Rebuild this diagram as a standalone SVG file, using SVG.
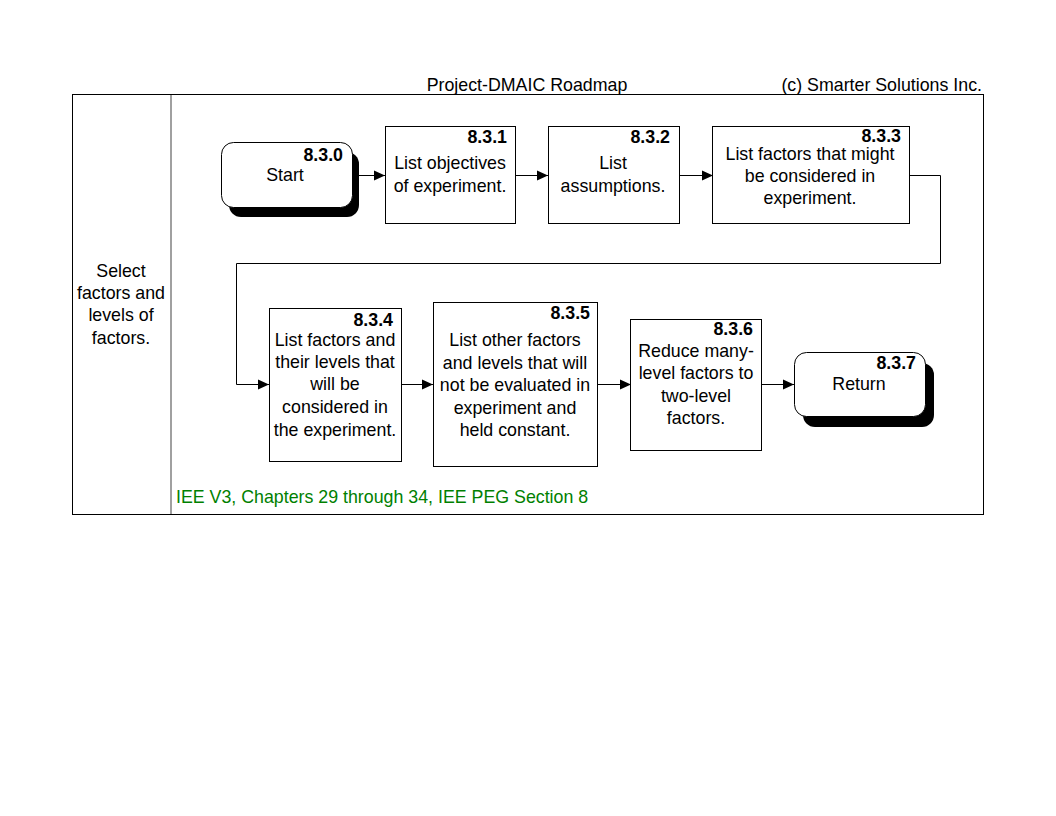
<svg xmlns="http://www.w3.org/2000/svg" width="1056" height="816" viewBox="0 0 1056 816">
<defs>
<marker id="arr" markerUnits="userSpaceOnUse" markerWidth="12" markerHeight="12" refX="11" refY="6" orient="auto">
<path d="M0,1 L11,6 L0,11 Z" fill="#000"/>
</marker>
<style>
text{font-family:"Liberation Sans",Arial,sans-serif;font-size:17.8px;fill:#000}
.c{text-anchor:middle}
.n{text-anchor:end;font-weight:bold}
.box{fill:#fff;stroke:#000;stroke-width:1}
.sh{fill:#000}
.ln{fill:none;stroke:#000;stroke-width:1}
</style>
</defs>
<rect width="1056" height="816" fill="#fff"/>
<g id="frame">
<rect x="72.5" y="94.5" width="911" height="420" fill="none" stroke="#000"/>
<line x1="171" y1="95" x2="171" y2="514" stroke="#808080" stroke-width="1.5"/>
<text class="c" x="527" y="90.5">Project-DMAIC Roadmap</text>
<text x="982" y="90.5" text-anchor="end">(c) Smarter Solutions Inc.</text>
<text class="c" x="121" y="277">Select</text>
<text class="c" x="121" y="299">factors and</text>
<text class="c" x="121" y="321">levels of</text>
<text class="c" x="121" y="344">factors.</text>
<text x="176" y="503" style="fill:#008000">IEE V3, Chapters 29 through 34, IEE PEG Section 8</text>
</g>
<g id="connectors">
<line class="ln" x1="359" y1="175.5" x2="385" y2="175.5" marker-end="url(#arr)"/>
<line class="ln" x1="516" y1="175.5" x2="548" y2="175.5" marker-end="url(#arr)"/>
<line class="ln" x1="679" y1="175.5" x2="713" y2="175.5" marker-end="url(#arr)"/>
<polyline class="ln" points="909,175.5 940.5,175.5 940.5,263.5 236.5,263.5 236.5,384.5 269,384.5" marker-end="url(#arr)"/>
<line class="ln" x1="401" y1="384.5" x2="433" y2="384.5" marker-end="url(#arr)"/>
<line class="ln" x1="598" y1="384.5" x2="631" y2="384.5" marker-end="url(#arr)"/>
<line class="ln" x1="762" y1="384.5" x2="794" y2="384.5" marker-end="url(#arr)"/>
</g>
<g id="n830">
<rect class="sh" x="229" y="152" width="130" height="65" rx="12"/>
<rect class="box" x="221.5" y="142.5" width="131" height="65" rx="12"/>
<text class="n" x="343" y="161">8.3.0</text>
<text class="c" x="285" y="181">Start</text>
</g>
<g id="n831">
<rect class="box" x="385.5" y="126.5" width="130" height="97"/>
<text class="n" x="507" y="143">8.3.1</text>
<text class="c" x="450" y="169">List objectives</text>
<text class="c" x="450" y="192">of experiment.</text>
</g>
<g id="n832">
<rect class="box" x="548.5" y="126.5" width="131" height="97"/>
<text class="n" x="670" y="143">8.3.2</text>
<text class="c" x="613" y="169">List</text>
<text class="c" x="613" y="192">assumptions.</text>
</g>
<g id="n833">
<rect class="box" x="712.5" y="126.5" width="197" height="97"/>
<text class="n" x="901" y="142">8.3.3</text>
<text class="c" x="810" y="160">List factors that might</text>
<text class="c" x="810" y="182">be considered in</text>
<text class="c" x="810" y="204">experiment.</text>
</g>
<g id="n834">
<rect class="box" x="269.5" y="308.5" width="132" height="153"/>
<text class="n" x="393" y="326">8.3.4</text>
<text class="c" x="335" y="346">List factors and</text>
<text class="c" x="335" y="368">their levels that</text>
<text class="c" x="335" y="390">will be</text>
<text class="c" x="335" y="413">considered in</text>
<text class="c" x="335" y="436">the experiment.</text>
</g>
<g id="n835">
<rect class="box" x="433.5" y="302.5" width="164" height="164"/>
<text class="n" x="590" y="319">8.3.5</text>
<text class="c" x="515" y="346">List other factors</text>
<text class="c" x="515" y="369">and levels that will</text>
<text class="c" x="515" y="391">not be evaluated in</text>
<text class="c" x="515" y="414">experiment and</text>
<text class="c" x="515" y="436">held constant.</text>
</g>
<g id="n836">
<rect class="box" x="630.5" y="319.5" width="131" height="131"/>
<text class="n" x="753" y="335">8.3.6</text>
<text class="c" x="696" y="357">Reduce many-</text>
<text class="c" x="696" y="379">level factors to</text>
<text class="c" x="696" y="402">two-level</text>
<text class="c" x="696" y="424">factors.</text>
</g>
<g id="n837">
<rect class="sh" x="803" y="363" width="131" height="64" rx="12"/>
<rect class="box" x="794.5" y="352.5" width="131" height="64" rx="12"/>
<text class="n" x="916" y="369">8.3.7</text>
<text class="c" x="859" y="390">Return</text>
</g>
</svg>
